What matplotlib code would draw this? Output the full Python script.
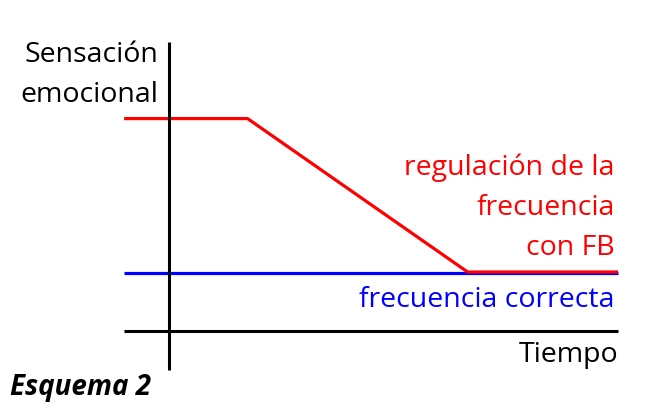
import matplotlib
matplotlib.use("Agg")
import matplotlib.pyplot as plt

plt.rcParams['font.family'] = ['Open Sans', 'DejaVu Sans']

# time axis (arbitrary units), vertical axis sits at t = 0
t_fb = [-1.0, 1.75, 6.65, 10.0]
sens_fb = [3.6, 3.6, 1.0, 1.0]       # regulación de la frecuencia con FB
t_ok = [-1.0, 10.0]
sens_ok = [0.99, 0.99]                # frecuencia correcta

RED = '#ff0000'
BLUE = '#0000ff'

fig = plt.figure(figsize=(6.6, 4.13), dpi=100)
ax = fig.add_axes([0, 0, 1, 1])
ax.set_xlim(-3.764, 10.935)
ax.set_ylim(-1.39, 5.61)

ax.plot(t_ok, sens_ok, color=BLUE, lw=2.3, solid_capstyle='butt')
ax.plot(t_fb, sens_fb, color=RED, lw=2.3, solid_capstyle='butt')

# axes drawn as spines crossing at the origin
for s in ['top', 'right']:
    ax.spines[s].set_visible(False)
ax.spines['left'].set_position(('data', 0))
ax.spines['bottom'].set_position(('data', 0))
ax.spines['left'].set_bounds(-0.66, 4.9)
ax.spines['bottom'].set_bounds(-1.0, 10.0)
for s in ['left', 'bottom']:
    ax.spines[s].set_linewidth(2.2)
    ax.spines[s].set_capstyle('butt')
ax.set_xticks([])
ax.set_yticks([])
ax.patch.set_visible(False)

fs = 20.5
ax.text(-0.245, 4.56, 'Sensación', ha='right', va='baseline', fontsize=fs)
ax.text(-0.245, 3.88, 'emocional', ha='right', va='baseline', fontsize=fs)
ax.text(9.93, 2.64, 'regulación de la', ha='right', va='baseline', fontsize=fs, color=RED)
ax.text(9.93, 1.97, 'frecuencia', ha='right', va='baseline', fontsize=fs, color=RED)
ax.text(9.93, 1.29, 'con FB', ha='right', va='baseline', fontsize=fs, color=RED)
ax.text(9.93, 0.41, 'frecuencia correcta', ha='right', va='baseline', fontsize=fs, color=BLUE)
ax.text(10.0, -0.525, 'Tiempo', ha='right', va='baseline', fontsize=fs)
ax.text(-3.54, -1.085, 'Esquema 2', ha='left', va='baseline', fontsize=20,
        fontweight='bold', fontstyle='italic')

fig.savefig('out.png', dpi=100)
